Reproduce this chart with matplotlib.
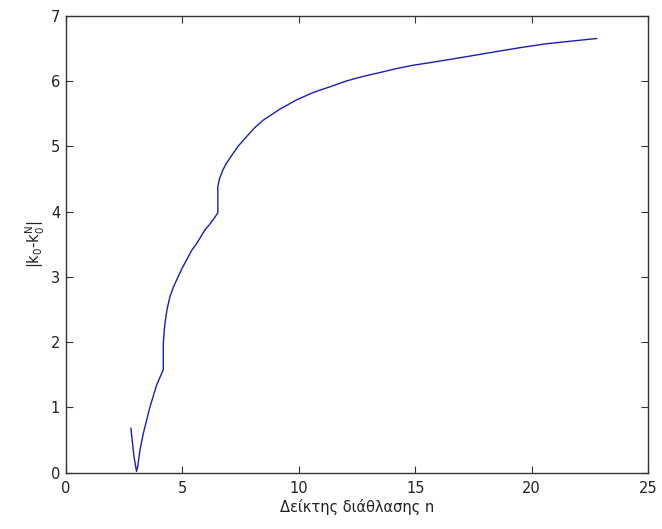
import matplotlib
matplotlib.use('Agg')
import matplotlib.pyplot as plt

# curve
n_vals = [2.80, 2.93, 3.04, 3.09, 3.19, 3.33, 3.62, 3.90, 4.19, 4.19,
          4.22, 4.26, 4.36, 4.48, 4.62, 4.76, 4.98, 5.19, 5.40, 5.62,
          5.98, 6.17, 6.36, 6.53, 6.53, 6.60, 6.75, 6.90, 7.05, 7.40,
          7.77, 8.10, 8.48, 9.20, 9.91, 10.60, 11.34, 12.05, 12.77, 13.50,
          14.20, 14.90, 15.63, 16.49, 17.50, 18.49, 19.50, 20.64, 21.70, 22.79]
dk_vals = [0.68, 0.25, 0.02, 0.09, 0.35, 0.60, 1.01, 1.34, 1.58, 1.98,
           2.12, 2.29, 2.52, 2.70, 2.84, 2.95, 3.12, 3.26, 3.40, 3.51,
           3.72, 3.80, 3.89, 3.98, 4.38, 4.50, 4.64, 4.74, 4.82, 5.00,
           5.15, 5.28, 5.40, 5.57, 5.71, 5.82, 5.91, 6.00, 6.07, 6.13,
           6.19, 6.24, 6.28, 6.33, 6.39, 6.45, 6.51, 6.57, 6.61, 6.65]

plt.rcParams['font.family'] = ['DejaVu Sans']
plt.rcParams['mathtext.default'] = 'regular'
plt.rcParams['font.size'] = 10.5

fig = plt.figure(figsize=(6.62, 5.29), dpi=100)
ax = fig.add_axes([0.0992, 0.1064, 0.880, 0.864])

ax.plot(n_vals, dk_vals, color='#1c1cb8', lw=1.0)

ax.set_xlim(0, 25)
ax.set_ylim(0, 7)
ax.set_xticks([0, 5, 10, 15, 20, 25])
ax.set_yticks(range(8))
ax.tick_params(direction='in', length=5, top=True, right=True,
               color='#333333', labelcolor='#222222', pad=4)
ax.tick_params(axis='x', pad=6)
for s in ax.spines.values():
    s.set_color('#333333')
    s.set_linewidth(1.0)

ax.set_xlabel('Δείκτης διάθλασης n', color='#222222', labelpad=2)
ax.set_ylabel('$|k_0$-$k_0^N|$', color='#222222', labelpad=3)

fig.savefig('out.png', dpi=100)
